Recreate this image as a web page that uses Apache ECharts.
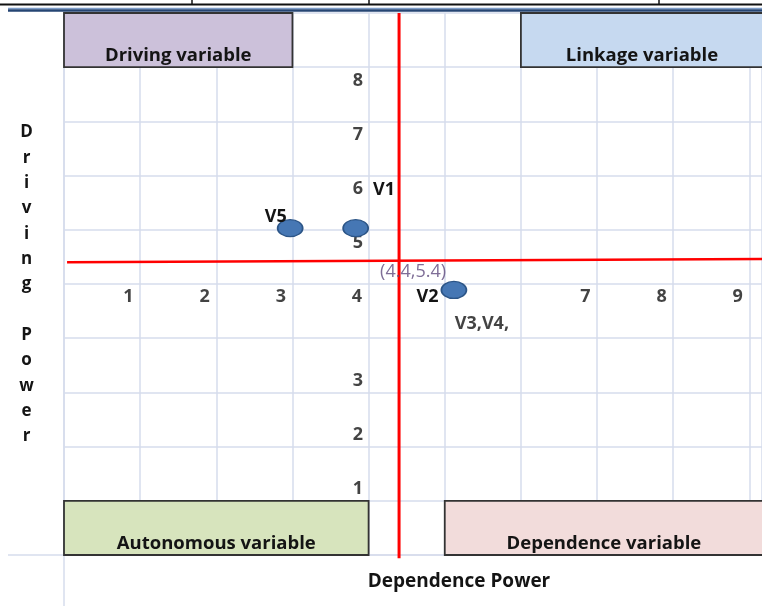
<!DOCTYPE html>
<html>
<head>
<meta charset="utf-8">
<style>
  html, body { margin: 0; padding: 0; background: #fff; }
  #chart { width: 762px; height: 606px; }
</style>
<script src="https://cdn.jsdelivr.net/npm/echarts@6/dist/echarts.min.js"></script>
</head>
<body>
<div id="chart"></div>
<script>
// MICMAC quadrant chart: driving power vs dependence power
const varNames = ['V5', 'V1', 'V2']
const dependence = [2.97, 3.83, 5.12]
const driving = [6.03, 6.03, 4.89]
const extraNames = ['', '', 'V3,V4,']

const xTicks = [1, 2, 3, 4, 7, 8, 9]
const yTicksUpper = [8, 7, 6, 5]
const yTicksLower = [3, 2, 1]

const cutX = 4.4
const cutY = 5.4
const cutLabel = '(4.4,5.4)'

const quadrantNames = ['Driving variable', 'Linkage variable', 'Autonomous variable', 'Dependence variable']
const quadrantX = [[0, 3], [6, 9.18], [0, 4], [5, 9.18]]
const quadrantY = [[9, 10], [9, 10], [0, 1], [0, 1]]
const quadrantColors = ['#ccc1da', '#c6d9f0', '#d7e4bd', '#f2dcdb']

const X_MAX = 9.166
const gridColor = '#d6dcec'
const textColor = '#141414'
const font = '"Open Sans", "Liberation Sans", sans-serif'

const pointLabel = {
  V5: { position: 'left', distance: 0, offset: [10, -11] },
  V1: { position: 'right', distance: 4, offset: [0, -38] },
  V2: { position: 'left', distance: 2, offset: [0, 7] }
}

const boldText = { color: textColor, fontFamily: font, fontWeight: 'bold', fontSize: 18 }

function textSeries(data, label) {
  return {
    type: 'scatter',
    silent: true,
    symbolSize: 1,
    itemStyle: { color: 'transparent' },
    data: data,
    label: Object.assign({ show: true, formatter: p => p.name }, boldText, label),
    z: 5
  }
}

const chart = echarts.init(document.getElementById('chart'))

chart.setOption({
  animation: false,
  grid: { left: 64, top: 13, width: 703, height: 542 },
  xAxis: {
    type: 'value',
    min: 0,
    max: X_MAX,
    interval: 1,
    axisLine: { show: true, lineStyle: { color: gridColor, width: 1.5 } },
    axisTick: { show: false },
    axisLabel: { show: false },
    splitLine: { lineStyle: { color: gridColor, width: 1.5 } }
  },
  yAxis: {
    type: 'value',
    min: 0,
    max: 10,
    interval: 1,
    axisLine: { show: true, lineStyle: { color: gridColor, width: 1.5 } },
    axisTick: { show: false },
    axisLabel: { show: false },
    splitLine: { lineStyle: { color: gridColor, width: 1.5 } }
  },
  graphic: [
    { type: 'line', shape: { x1: 0, y1: 4.5, x2: 762, y2: 4.5 }, style: { stroke: '#111', lineWidth: 2 } },
    { type: 'line', shape: { x1: 192, y1: 0, x2: 192, y2: 4 }, style: { stroke: '#111', lineWidth: 1.5 } },
    { type: 'line', shape: { x1: 369, y1: 0, x2: 369, y2: 4 }, style: { stroke: '#111', lineWidth: 1.5 } },
    { type: 'line', shape: { x1: 659, y1: 0, x2: 659, y2: 4 }, style: { stroke: '#111', lineWidth: 1.5 } },
    { type: 'line', shape: { x1: 8, y1: 8.5, x2: 762, y2: 8.5 }, style: { stroke: '#7d9cc8', lineWidth: 1.5 } },
    { type: 'line', shape: { x1: 8, y1: 10.5, x2: 762, y2: 10.5 }, style: { stroke: '#254573', lineWidth: 2.5 } },
    { type: 'line', shape: { x1: 64, y1: 555, x2: 64, y2: 606 }, style: { stroke: gridColor, lineWidth: 1.5 } },
    { type: 'line', shape: { x1: 8, y1: 555, x2: 64, y2: 555 }, style: { stroke: gridColor, lineWidth: 1.5 } },
    {
      type: 'text', x: 26.5, y: 284.5, z: 10,
      style: {
        text: 'D\nr\ni\nv\ni\nn\ng\n\nP\no\nw\ne\nr',
        align: 'center', verticalAlign: 'middle', lineHeight: 25.35,
        fill: textColor, font: 'bold 17px ' + font
      }
    },
    {
      type: 'text', x: 459, y: 582, z: 10,
      style: {
        text: 'Dependence Power', align: 'center', verticalAlign: 'middle',
        fill: textColor, font: 'bold 19px ' + font
      }
    }
  ],
  series: [
    {
      type: 'custom',
      silent: true,
      z: 3,
      encode: { x: [0, 1], y: [2, 3] },
      data: quadrantNames.map((n, i) => [quadrantX[i][0], quadrantX[i][1], quadrantY[i][0], quadrantY[i][1], n]),
      renderItem: (params, api) => {
        const tl = api.coord([api.value(0), api.value(3)])
        const br = api.coord([api.value(1), api.value(2)])
        return {
          type: 'rect',
          shape: { x: tl[0], y: tl[1], width: br[0] - tl[0], height: br[1] - tl[1] },
          style: { fill: quadrantColors[params.dataIndex], stroke: '#333333', lineWidth: 1.8 },
          textContent: {
            style: { text: quadrantNames[params.dataIndex], fill: textColor, font: 'bold 18.5px ' + font }
          },
          textConfig: { position: 'insideBottom', distance: 3 }
        }
      }
    },
    {
      type: 'line',
      silent: true,
      clip: false,
      symbol: 'none',
      z: 4,
      lineStyle: { color: '#ff0000', width: 3 },
      data: [[cutX, 10], [cutX, -0.06]]
    },
    {
      type: 'line',
      silent: true,
      clip: false,
      symbol: 'none',
      z: 4,
      lineStyle: { color: '#ff0000', width: 2.5 },
      data: [[0.04, cutY], [X_MAX, cutY + 0.06]]
    },
    {
      type: 'scatter',
      z: 6,
      symbolSize: [25, 17],
      itemStyle: { color: '#4677b4', borderColor: '#2c5587', borderWidth: 1.5, opacity: 1 },
      data: varNames.map((n, i) => ({
        name: n,
        value: [dependence[i], driving[i]],
        label: Object.assign({ show: true, formatter: n }, boldText, pointLabel[n])
      }))
    },
    textSeries(
      extraNames.map((n, i) => ({ name: n, value: [dependence[i], driving[i]] })),
      { position: 'bottom', distance: 24, offset: [28, 0] }
    ),
    textSeries(
      [{ name: cutLabel, value: [cutX, cutY] }],
      { position: 'bottom', distance: 0, offset: [14, 0], fontWeight: 'normal', fontSize: 18, color: '#5f4a7d' }
    ),
    textSeries(
      xTicks.map(v => ({ name: String(v), value: [v, 5] })),
      { position: 'left', distance: 6, offset: [0, 13] }
    ),
    textSeries(
      yTicksUpper.map(v => ({ name: String(v), value: [4, v] })),
      { position: 'left', distance: 5, offset: [0, -41] }
    ),
    textSeries(
      yTicksLower.map(v => ({ name: String(v), value: [4, v] })),
      { position: 'left', distance: 5, offset: [0, -12] }
    )
  ]
})
</script>
</body>
</html>
